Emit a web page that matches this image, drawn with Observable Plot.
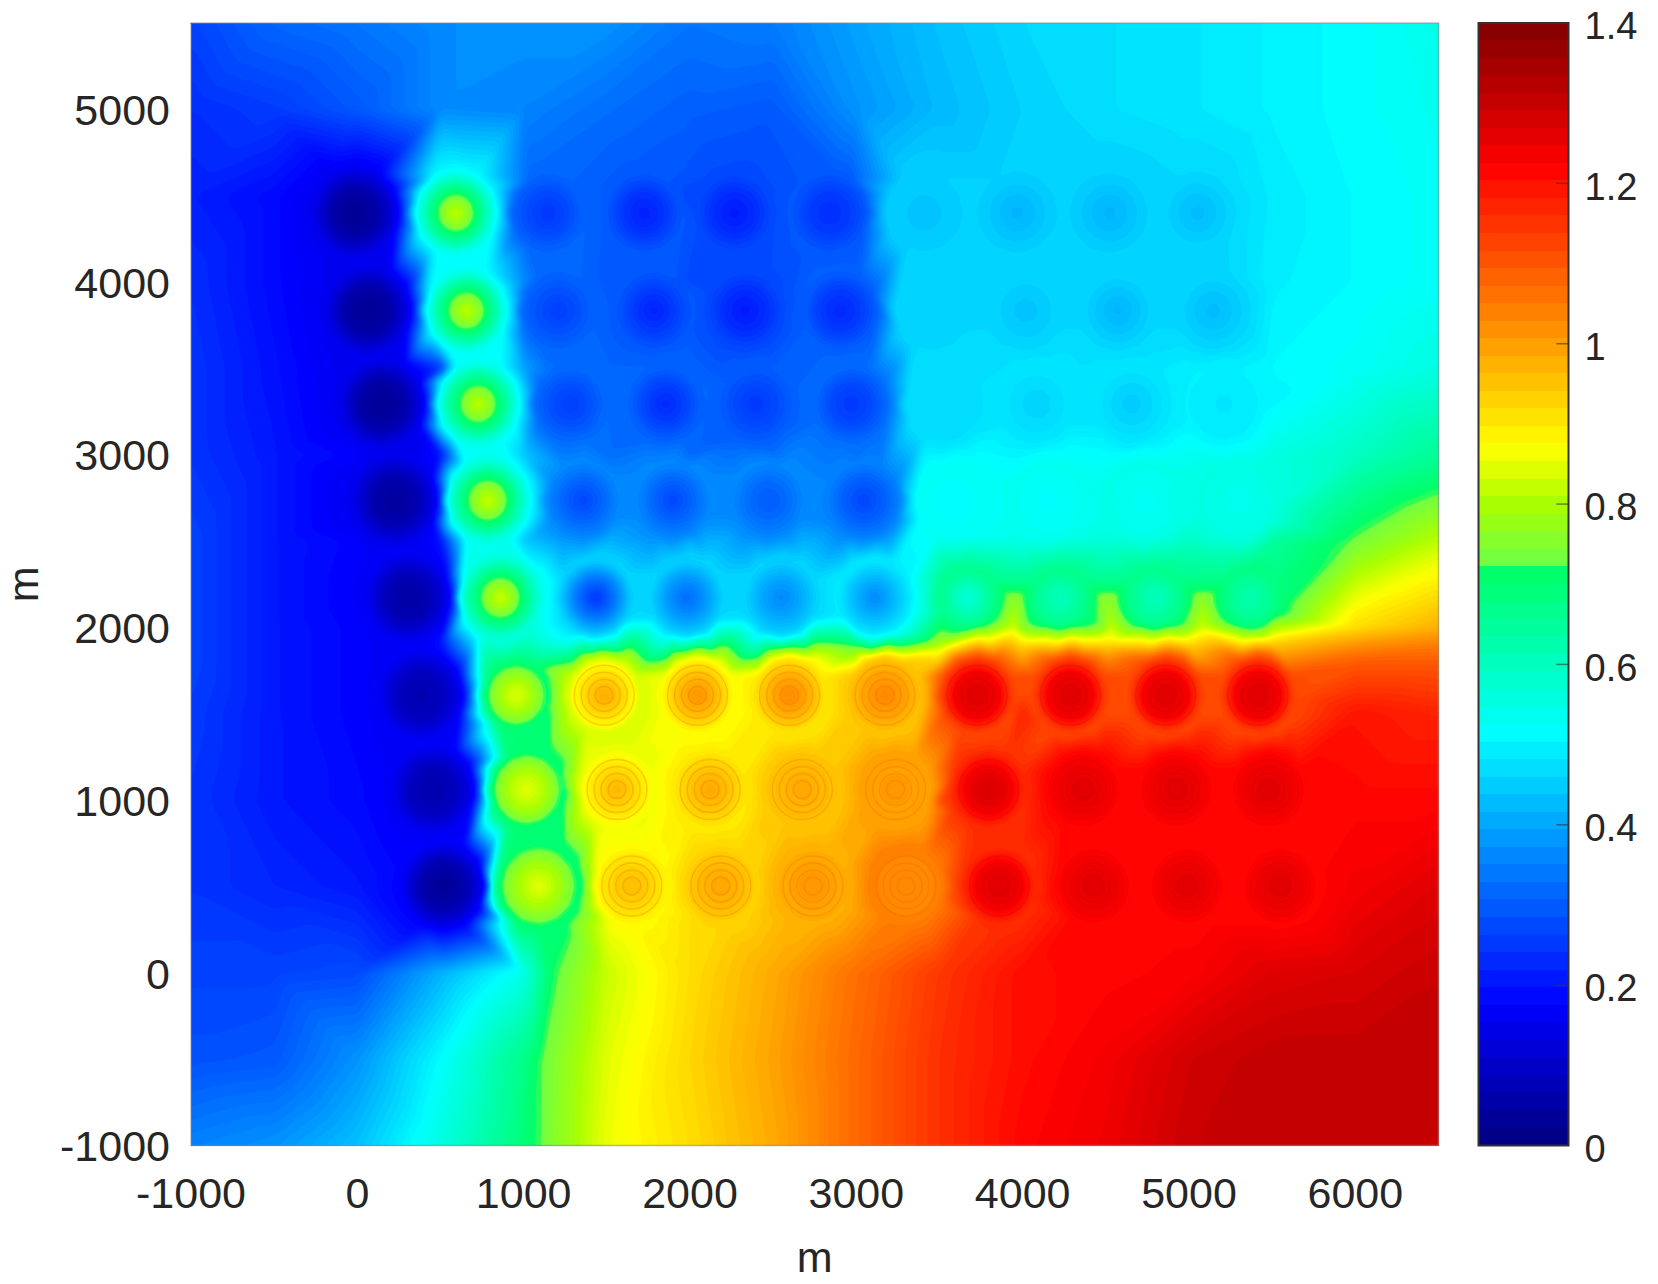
<!DOCTYPE html>
<html>
<head>
<meta charset="utf-8">
<script src="https://cdn.jsdelivr.net/npm/d3@7"></script>
<script src="https://cdn.jsdelivr.net/npm/@observablehq/plot@0.6"></script>
<style>
html,body{margin:0;padding:0;background:#fff}
#fig{position:relative;width:1658px;height:1284px;overflow:hidden}
#fig svg{position:absolute;top:0;overflow:visible}
</style>
</head>
<body>
<div id="fig"></div>
<script>
// axis ticks
const xTicks = [-1000,0,1000,2000,3000,4000,5000,6000];
const yTicks = [-1000,0,1000,2000,3000,4000,5000];
const barTicks = [0,0.2,0.4,0.6,0.8,1,1.2,1.4];

// colour map
const colorStops = [0,0.175,0.35,0.515,0.72,0.725,0.8,0.87,1.04,1.22,1.4];
const colorValues = ["#000080","#0000ff","#0080ff","#00ffff","#00ff64","#6eff46","#aaff00","#ffff00","#ff8000","#ff0000","#800000"];

// background field sampled on a grid
const fieldX = [-1000,-500,0,500,1000,1500,2000,2500,3000,3500,4000,4500,5000,5500,6000,6500];
const fieldY = [-1000,-500,0,500,1000,1500,1800,1900,2000,2500,3000,3500,4000,4500,5000,5500];
const fieldV = [
 [.36,.38,.44,.56,.70,.86,.92,.99,1.08,1.16,1.22,1.25,1.30,1.31,1.31,1.30],
 [.29,.30,.38,.52,.68,.85,.93,1.00,1.08,1.16,1.21,1.24,1.29,1.31,1.31,1.31],
 [.27,.27,.28,.42,.55,.83,.92,.99,1.07,1.15,1.21,1.22,1.23,1.27,1.28,1.30],
 [.25,.23,.21,.17,.60,.85,.92,1.00,1.00,1.10,1.22,1.22,1.22,1.22,1.24,1.27],
 [.25,.21,.19,.13,.68,.84,.91,.98,1.05,1.12,1.22,1.22,1.22,1.22,1.22,1.22],
 [.26,.21,.18,.17,.70,.82,.88,.93,.98,1.08,1.18,1.20,1.20,1.20,1.20,1.18],
 [.27,.21,.18,.20,.66,.75,.76,.78,.85,.95,1.02,1.05,1.06,1.08,1.10,1.10],
 [.27,.21,.18,.20,.62,.62,.64,.66,.72,.80,.92,.93,.93,.95,1.02,1.05],
 [.27,.21,.18,.17,.52,.52,.54,.56,.60,.72,.76,.76,.76,.80,.92,.98],
 [.27,.21,.18,.20,.45,.42,.42,.43,.45,.52,.55,.57,.60,.65,.74,.82],
 [.25,.21,.18,.20,.45,.33,.32,.33,.33,.50,.51,.52,.54,.56,.60,.66],
 [.25,.20,.18,.25,.40,.32,.30,.30,.31,.44,.46,.49,.50,.515,.53,.56],
 [.24,.19,.18,.30,.37,.30,.28,.28,.30,.41,.43,.44,.47,.50,.515,.53],
 [.22,.19,.19,.35,.35,.30,.27,.27,.30,.42,.44,.45,.47,.495,.515,.53],
 [.24,.26,.30,.37,.36,.33,.31,.30,.38,.43,.46,.48,.49,.505,.52,.54],
 [.27,.32,.34,.37,.38,.38,.34,.35,.40,.44,.47,.48,.49,.505,.52,.55]
];

// extra samples along the sharp fronts
const frontX = [1100,1170,3950,4510,5080,3950,4510,5080];
const frontY = [-500,0,2000,2000,2000,2150,2150,2150];
const frontV = [.73,.72,.84,.84,.84,.78,.78,.78];

// measurement stations, one row of the lattice per line
const wellY = [4400,3834,3294,2736,2172,1607,1061,503];
const wellX = [
 [-13,592,1146,1726,2268,2841,3408,3968,4522,5051],
 [64,656,1210,1783,2331,2904,3459,4019,4573,5146],
 [146,726,1280,1854,2395,2968,3522,4083,4656,5210],
 [223,783,1357,1898,2471,3045,3586,4159,4732,5293],
 [306,860,1433,1981,2548,3108,3669,4223,4796,5369],
 [382,955,1484,2045,2599,3172,3726,4287,4860,5414],
 [452,1019,1561,2121,2675,3236,3796,4363,4924,5478],
 [516,1089,1650,2185,2739,3299,3860,4427,4987,5548]
];
const wellPeak = [
 [.03,.84,.25,.22,.21,.24,.44,.42,.42,.43],
 [.03,.84,.26,.22,.21,.23,.46,.44,.42,.43],
 [.03,.84,.26,.23,.25,.25,.47,.46,.45,.49],
 [.04,.85,.27,.27,.30,.27,.52,.52,.53,.54],
 [.05,.85,.24,.32,.36,.36,.56,.60,.60,.62],
 [.07,.86,1.00,1.03,1.04,1.04,1.27,1.27,1.27,1.27],
 [.06,.86,.98,1.00,1.00,1.02,1.28,1.27,1.27,1.27],
 [.03,.86,.97,1.00,1.02,1.04,1.27,1.27,1.27,1.27]
];
const wellMid = [
 [.06,.70,.28,.25,.24,.26,.45,.44,.44,.45],
 [.06,.70,.29,.26,.24,.26,.465,.455,.445,.45],
 [.06,.70,.29,.27,.28,.28,.475,.475,.47,.495],
 [.07,.71,.32,.32,.33,.31,.525,.53,.54,.55],
 [.08,.71,.35,.39,.41,.43,.62,.64,.64,.65],
 [.09,.79,.92,.96,.98,1.00,1.25,1.25,1.25,1.25],
 [.09,.80,.92,.95,.97,1.00,1.25,1.25,1.25,1.25],
 [.07,.79,.93,.97,1.00,1.03,1.25,1.25,1.25,1.25]
];
const wellRim = [
 [.16,.52,.32,.30,.28,.30,.46,.46,.46,.47],
 [.16,.52,.32,.30,.28,.31,.47,.47,.47,.47],
 [.16,.53,.33,.32,.31,.33,.48,.49,.49,.505],
 [.16,.54,.37,.37,.37,.36,.53,.54,.55,.56],
 [.17,.55,.47,.47,.47,.50,.68,.68,.68,.69],
 [.17,.70,.84,.87,.90,.95,1.12,1.12,1.12,1.12],
 [.17,.70,.86,.90,.95,1.00,1.16,1.22,1.22,1.22],
 [.18,.70,.88,.93,.98,1.05,1.16,1.22,1.22,1.22]
];
const wellRadius = [
 [260,250,230,230,230,230,230,230,230,230],
 [260,250,230,230,230,230,230,230,230,230],
 [260,250,230,230,230,230,230,230,230,230],
 [260,250,230,230,230,230,230,230,230,230],
 [260,250,230,230,230,230,170,170,170,170],
 [260,200,230,230,230,230,230,230,230,230],
 [260,230,230,230,230,230,230,230,230,230],
 [260,260,230,230,230,230,230,230,230,230]
];
const ringAngles = [0,30,60,90,120,150,180,210,240,270,300,330];
const midShare = 0.55;
const haloRadii = [9,16,23,30];

// assemble the sample table
const samples = [];
const wells = [];
wellY.forEach((y,i)=>wellX[i].forEach((x,j)=>wells.push({x,y,row:i,col:j,peak:wellPeak[i][j],mid:wellMid[i][j],rim:wellRim[i][j],r:wellRadius[i][j]})));
fieldY.forEach((y,i)=>fieldX.forEach((x,j)=>{
  if (!wells.some(w=>Math.hypot(w.x-x,w.y-y)<w.r*1.1)) samples.push({x,y,v:fieldV[i][j]});
}));
frontX.forEach((x,i)=>samples.push({x,y:frontY[i],v:frontV[i]}));
wells.forEach(w=>{
  samples.push({x:w.x,y:w.y,v:w.peak});
  ringAngles.forEach(a=>{
    const c=Math.cos(a*Math.PI/180), s=Math.sin(a*Math.PI/180);
    samples.push({x:w.x+w.r*c,y:w.y+w.r*s,v:w.rim});
    samples.push({x:w.x+w.r*midShare*c,y:w.y+w.r*midShare*s,v:w.mid});
  });
});
const ringed = wells.filter(w=>w.row>=5&&w.col>=2);

const levels = d3.range(0,1.4,1.4/128);
const barLevels = d3.range(0,1.4,1.4/64);
const color = {type:"linear",domain:colorStops,range:colorValues,clamp:true};
const font = '"Liberation Sans",Arial,sans-serif';

const main = Plot.plot({
  width:1458,height:1284,
  marginLeft:190.5,marginRight:20,marginTop:22.5,marginBottom:139,
  style:{fontFamily:font,background:"transparent",overflow:"visible"},
  x:{domain:[-1000,6500]},
  y:{domain:[-1000,5500]},
  color,
  marks:[
    Plot.contour(samples,{x:"x",y:"y",value:"v",fill:"value",interpolate:"barycentric",thresholds:levels,blur:3,pixelSize:1,stroke:"none"}),
    ...haloRadii.map(r=>Plot.dot(ringed,{x:"x",y:"y",r,fill:"none",stroke:d=>d.col<6?"#ff5a00":"#b40000",strokeOpacity:d=>d.col<6?0.28:0.2,strokeWidth:1.5})),
    Plot.frame({stroke:"#8a8a8a",strokeOpacity:0.55,strokeWidth:1.5}),
    Plot.axisX({ticks:xTicks,tickSize:0,tickPadding:32,fontSize:43,fill:"#262626",tickFormat:d=>String(d),label:"m",labelAnchor:"center",labelArrow:"none",labelOffset:126}),
    Plot.axisY({ticks:yTicks,tickSize:0,tickPadding:21,fontSize:43,dy:2,fill:"#262626",tickFormat:d=>String(d),label:"m",labelAnchor:"center",labelArrow:"none",labelOffset:184})
  ]
});
main.style.left="0px";

const bar = Plot.plot({
  width:198,height:1284,
  marginLeft:18,marginRight:90,marginTop:22.5,marginBottom:139,
  style:{fontFamily:font,background:"transparent",overflow:"visible"},
  x:{domain:[0,1],axis:null},
  y:{domain:[0,1.4]},
  color,
  marks:[
    Plot.rect(barLevels,{x1:0,x2:1,y1:d=>d,y2:d=>d+1.4/64,fill:d=>d+0.7/64,shapeRendering:"crispEdges"}),
    Plot.ruleY(barTicks.slice(1,-1),{x1:0.87,x2:1,stroke:"#333",strokeOpacity:0.6,strokeWidth:1.5}),
    Plot.frame({stroke:"#333",strokeWidth:2}),
    Plot.axisY({anchor:"right",ticks:barTicks,tickSize:0,tickPadding:16,fontSize:38,dy:4,fill:"#262626",tickFormat:d=>String(d),label:null})
  ]
});
bar.style.left="1460px";

document.getElementById("fig").append(main,bar);
</script>
</body>
</html>
